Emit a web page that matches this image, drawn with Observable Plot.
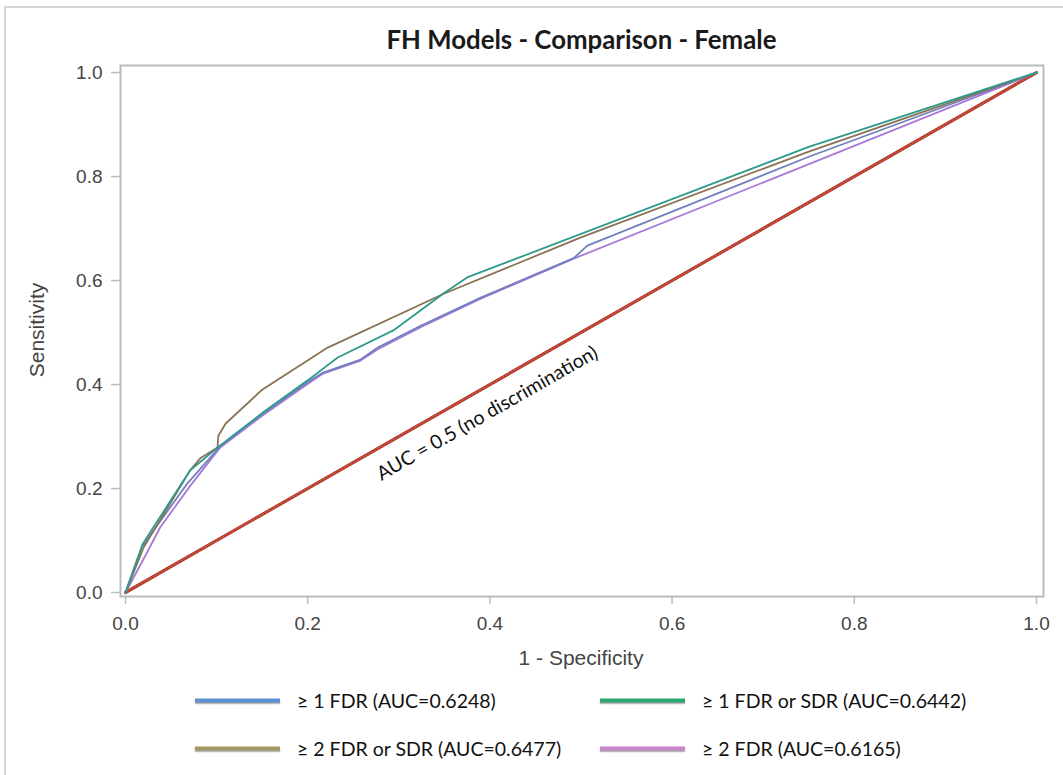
<!DOCTYPE html>
<html><head><meta charset="utf-8">
<script src="https://cdn.jsdelivr.net/npm/d3@7"></script>
<script src="https://cdn.jsdelivr.net/npm/@observablehq/plot@0.6"></script>
<style>
body{margin:0;background:#fff;}
#wrap{position:relative;width:1063px;height:775px;overflow:hidden;background:#fff;}
#border{position:absolute;left:4px;top:6px;width:1100px;height:800px;border:2px solid #d6d6d6;}
#title{position:absolute;left:120px;width:923px;top:24px;line-height:26px;text-align:center;font:bold 25.8px Lato,sans-serif;color:#1a1a1a;}
#chart{position:absolute;left:0;top:0;}
.axlab{position:absolute;font:21px "Liberation Sans",Arial,sans-serif;color:#444;white-space:nowrap;}
.leg{position:absolute;display:flex;align-items:center;font:19.5px Lato,sans-serif;color:#111;white-space:nowrap;transform:translateY(-50%);}
.sw{width:85px;height:4px;margin-right:17px;box-shadow:0 1.5px 1.5px rgba(0,0,0,.35);}
</style></head>
<body>
<div id="wrap">
  <div id="border"></div>
  <div id="title">FH Models - Comparison - Female</div>
  <div id="chart"></div>
  <div class="axlab" id="xlab" style="left:581px;top:658px;transform:translate(-50%,-50%);">1 - Specificity</div>
  <div class="axlab" id="ylab" style="left:37px;top:330px;transform:translate(-50%,-50%) rotate(-90deg);">Sensitivity</div>
  <div id="legend"></div>
</div>
<script>
// ---- data ----
const seriesNames = ["≥ 1 FDR (AUC=0.6248)", "≥ 1 FDR or SDR (AUC=0.6442)", "≥ 2 FDR or SDR (AUC=0.6477)", "≥ 2 FDR (AUC=0.6165)"];
const lineColors   = ["#6f80bd", "#2f9a8c", "#8a7255", "#a878d8"];
const legendColors = ["#5b8fd3", "#2aa671", "#a39862", "#c785cd"];

const fdr1_x = [0, 0.018, 0.068, 0.104, 0.150, 0.203, 0.217, 0.258, 0.277, 0.324, 0.390, 0.492, 0.507, 0.750, 1];
const fdr1_y = [0, 0.088, 0.210, 0.281, 0.343, 0.408, 0.423, 0.448, 0.471, 0.513, 0.567, 0.643, 0.667, 0.838, 1];

const fdr1sdr_x = [0, 0.019, 0.071, 0.104, 0.150, 0.200, 0.233, 0.294, 0.349, 0.375, 0.750, 1];
const fdr1sdr_y = [0, 0.094, 0.235, 0.283, 0.345, 0.408, 0.452, 0.504, 0.575, 0.606, 0.857, 1];

const fdr2sdr_x = [0, 0.020, 0.071, 0.082, 0.101, 0.102, 0.110, 0.150, 0.222, 0.350, 0.500, 0.750, 1];
const fdr2sdr_y = [0, 0.087, 0.235, 0.258, 0.279, 0.302, 0.325, 0.390, 0.471, 0.575, 0.683, 0.848, 1];

const fdr2_x = [0, 0.020, 0.038, 0.071, 0.104, 0.150, 0.203, 0.217, 0.258, 0.277, 0.324, 0.390, 0.492, 1];
const fdr2_y = [0, 0.065, 0.125, 0.205, 0.279, 0.340, 0.405, 0.421, 0.446, 0.468, 0.510, 0.565, 0.642, 1];

const refX = [0, 1];
const refY = [0, 1];
const refLabel = ["AUC = 0.5 (no discrimination)"];
const refLabelAt = [0.385];

const xTicks = [0, 0.2, 0.4, 0.6, 0.8, 1.0];
const yTicks = [0, 0.2, 0.4, 0.6, 0.8, 1.0];

// ---- build rows ----
const seriesX = [fdr1_x, fdr1sdr_x, fdr2sdr_x, fdr2_x];
const seriesY = [fdr1_y, fdr1sdr_y, fdr2sdr_y, fdr2_y];
const rows = [];
seriesNames.forEach((name, i) => seriesX[i].forEach((x, j) => rows.push({series: name, x, y: seriesY[i][j]})));
const refRows = refX.map((x, i) => ({x, y: refY[i]}));
const drawOrder = [3, 0, 2, 1];

const fmt = d3.format(".1f");
const gray = "#b8bcc0";

const chart = Plot.plot({
  width: 1063, height: 640,
  marginLeft: 120, marginRight: 20, marginTop: 65, marginBottom: 44,
  x: {domain: [-0.0055, 1.0077], label: null},
  y: {domain: [-0.0077, 1.0135], label: null},
  color: {domain: seriesNames, range: lineColors},
  style: {fontFamily: "'Liberation Sans', Arial, sans-serif", fontSize: "19px", background: "transparent", overflow: "visible"},
  marks: [
    Plot.axisX(xTicks, {tickFormat: fmt, tickSize: 8, tickPadding: 12, stroke: gray, strokeWidth: 1.5, fill: "#444", label: null}),
    Plot.axisY(yTicks, {tickFormat: fmt, tickSize: 9, tickPadding: 9, stroke: gray, strokeWidth: 1.5, fill: "#444", label: null}),
    Plot.line(refRows, {x: "x", y: "y", stroke: "#b23b2c", strokeWidth: 3.2}),
    Plot.line(refRows, {x: "x", y: "y", stroke: "#d9604d", strokeWidth: 1, strokeDasharray: "1.5,2"}),
    ...drawOrder.map(i => Plot.line(rows.filter(d => d.series === seriesNames[i]), {x: "x", y: "y", stroke: "series", strokeWidth: 1.8})),
    Plot.text(refLabel, {x: () => refLabelAt[0], y: () => refLabelAt[0], text: d => d, rotate: -29.7, dx: 11, dy: 21,
      fontFamily: "Lato, sans-serif", fontSize: 19.5, fill: "#111", textAnchor: "middle"}),
    Plot.frame({stroke: gray, strokeWidth: 2})
  ]
});
document.getElementById("chart").appendChild(chart);

// ---- legend (HTML, below the svg) ----
const legPos = [[195, 700], [600, 700], [195, 748], [600, 748]];
const legend = document.getElementById("legend");
seriesNames.forEach((name, i) => {
  const el = document.createElement("div");
  el.className = "leg";
  el.style.left = legPos[i][0] + "px";
  el.style.top = legPos[i][1] + "px";
  el.innerHTML = `<span class="sw" style="background:${legendColors[i]}"></span><span>${name}</span>`;
  legend.appendChild(el);
});
</script>
</body></html>
